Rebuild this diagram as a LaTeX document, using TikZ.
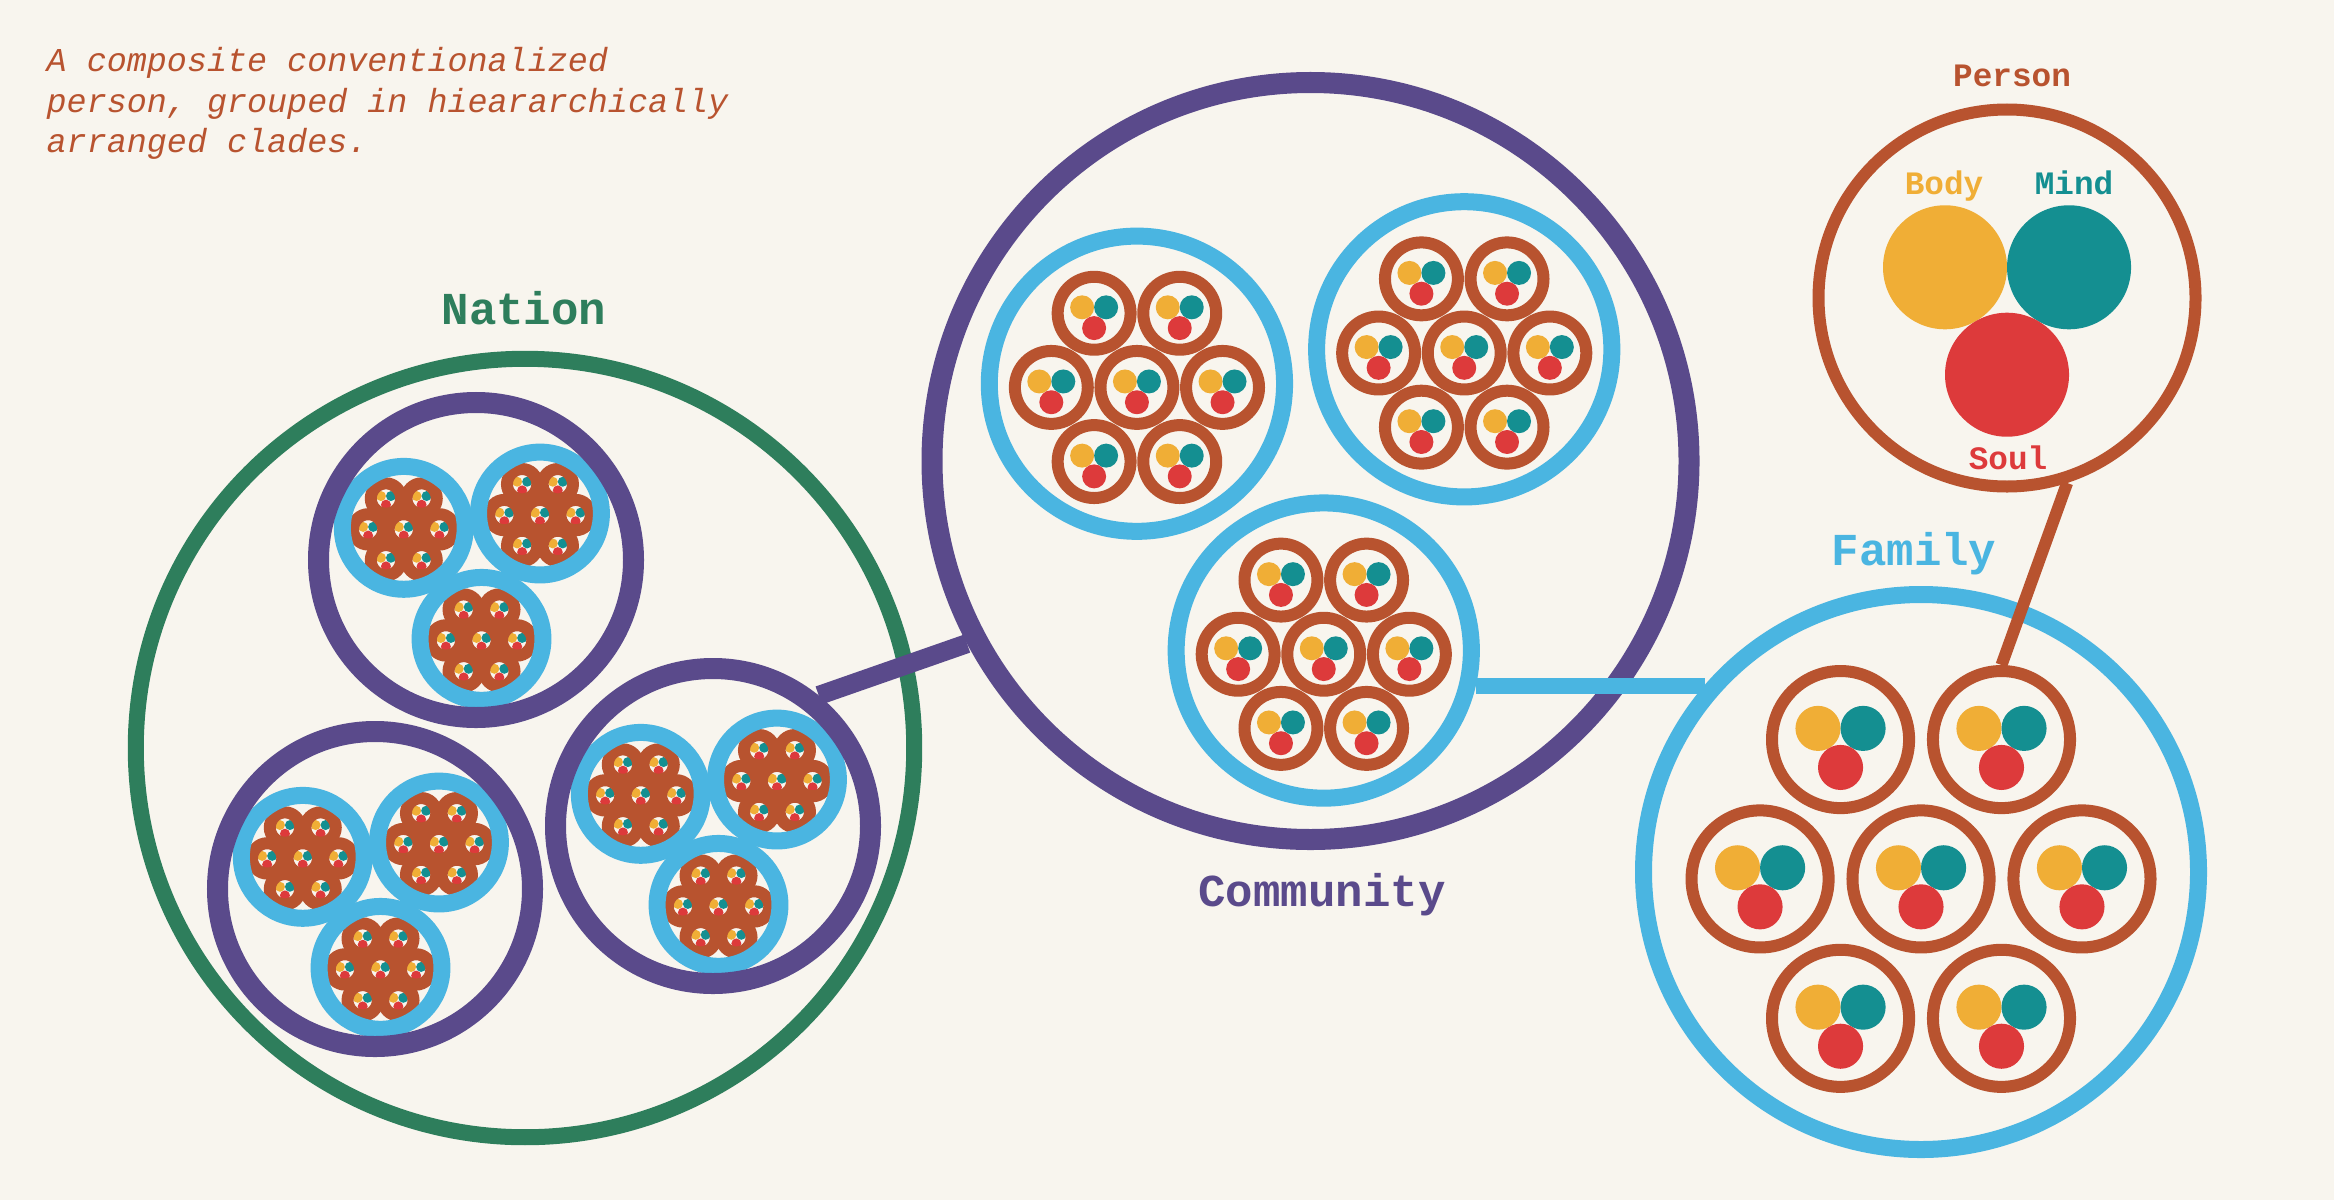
\documentclass[tikz,border=0pt]{standalone}
\usepackage{fontspec}
\usepackage{tikz}
\usetikzlibrary{positioning,calc}
\newfontfamily\cladefont{Liberation Mono}
\definecolor{paper}{HTML}{F8F5EE}
\definecolor{rust}{HTML}{B8532F}
\definecolor{bodyyel}{HTML}{F0AE36}
\definecolor{mindteal}{HTML}{148F91}
\definecolor{soulred}{HTML}{DD3A3B}
\definecolor{famblue}{HTML}{4AB5E1}
\definecolor{compurple}{HTML}{5A4A8B}
\definecolor{natgreen}{HTML}{2E7E5C}
\tikzset{
  bodydot/.style={fill=bodyyel},
  minddot/.style={fill=mindteal},
  souldot/.style={fill=soulred},
  personring/.style={circle, draw=rust, line width=0.12cm, inner sep=0pt},
  familyring/.style={circle, draw=famblue, line width=0.17cm, inner sep=0pt},
  communityring/.style={circle, draw=compurple, line width=0.21cm, inner sep=0pt},
  nationring/.style={circle, draw=natgreen, line width=0.16cm, inner sep=0pt},
  personlink/.style={draw=rust, line width=0.12cm},
  familylink/.style={draw=famblue, line width=0.16cm},
  communitylink/.style={draw=compurple, line width=0.19cm},
  cladelabel/.style={anchor=base, inner sep=0pt, font=\cladefont\bfseries\fontsize{13}{15}\selectfont},
  partlabel/.style={anchor=base, inner sep=0pt, font=\cladefont\bfseries\fontsize{9.3}{11}\selectfont},
  note/.style={anchor=north west, align=left, inner sep=0pt, text=rust, font=\cladefont\itshape\fontsize{9.5}{11.4}\selectfont}
}
% name, x, y, ring radius
\newcommand{\personat}[4]{%
  \fill[bodydot] (#2-0.329*#4, #3-0.163*#4) circle (0.329*#4);
  \fill[minddot] (#2+0.329*#4, #3-0.163*#4) circle (0.329*#4);
  \fill[souldot] (#2, #3+0.407*#4) circle (0.329*#4);
  \node[personring, minimum size=2*#4*0.01cm] (#1) at (#2,#3) {};
}
% name, x, y, family radius
\newcommand{\familyat}[4]{%
  \pgfmathsetmacro\memgap{0.58*#4}
  \pgfmathsetmacro\memrad{0.247*#4}
  \pgfmathsetmacro\memdrop{0.025*#4}
  \foreach \a in {0,60,...,300}{
    \pgfmathsetmacro\px{#2+\memgap*cos(\a)}
    \pgfmathsetmacro\py{#3+\memdrop-\memgap*sin(\a)}
    \personat{#1-p\a}{\px}{\py}{\memrad}
  }
  \pgfmathsetmacro\py{#3+\memdrop}
  \personat{#1-p}{#2}{\py}{\memrad}
  \node[familyring, minimum size=2*#4*0.01cm] (#1) at (#2,#3) {};
}
% name, x, y, community radius
\newcommand{\communityat}[4]{%
  \pgfmathsetmacro\famgap{0.502*#4}
  \pgfmathsetmacro\famrad{0.39*#4}
  \foreach \b [count=\k] in {156,36,-86}{
    \pgfmathsetmacro\fx{#2+\famgap*cos(\b)}
    \pgfmathsetmacro\fy{#3-\famgap*sin(\b)}
    \familyat{#1-f\k}{\fx}{\fy}{\famrad}
  }
  \node[communityring, minimum size=2*#4*0.01cm] (#1) at (#2,#3) {};
}

\begin{document}
\begin{tikzpicture}[x=0.01cm, y=-0.01cm]
  \useasboundingbox (0,0) rectangle (2334,1200);
  \fill[paper] (0,0) rectangle (2334,1200);

  \foreach \n/\cx/\cy in {1/476/560, 2/375/889, 3/713/826}{
    \communityat{nc\n}{\cx}{\cy}{157.5}
  }
  \node[nationring, minimum size=7.78cm] (nation) at (525,748) {};

  \communityat{com}{1310.5}{461}{378.5}
  \familyat{fam}{1921}{872}{277.5}
  \personat{person}{2007}{298}{188.5}

  \node[note] (caption) at (46,47) {A composite conventionalized\\person, grouped in hieararchically\\arranged clades.};
  \node[cladelabel, text=natgreen] (nationlabel) at (524,324) {Nation};
  \node[cladelabel, text=compurple] (communitylabel) at (1322,906) {Community};
  \node[cladelabel, text=famblue] (familylabel) at (1914,565) {Family};
  \node[partlabel, text=rust] (personlabel) at (2012,87) {Person};
  \node[partlabel, text=bodyyel] (bodylabel) at (1944,194) {Body};
  \node[partlabel, text=mindteal] (mindlabel) at (2074,194) {Mind};
  \node[partlabel, text=soulred] (soullabel) at (2008,469) {Soul};

  \draw[communitylink] (nc3.51) -- (com.208);
  \draw[familylink] (com-f3.-13) -- (com-f3.-13 -| fam.139);
  \draw[personlink] (person.-72) -- (fam-p60.north);
\end{tikzpicture}
\end{document}
